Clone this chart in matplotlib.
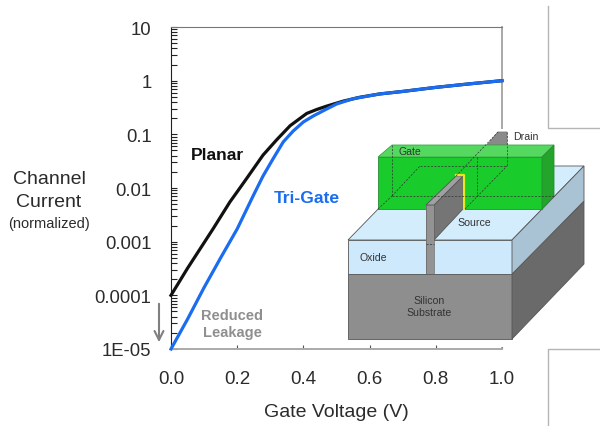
import matplotlib
matplotlib.use("Agg")
import matplotlib.pyplot as plt
from matplotlib.patches import Polygon, Rectangle
from matplotlib.ticker import LogLocator, NullFormatter

plt.rcParams["font.family"] = ["Liberation Sans", "DejaVu Sans"]

W, H = 600, 427
INK = "#2b2b2b"
BLUE = "#1a6cf0"
GREY = "#8f8f8f"

planar_v = [0.0, 0.05, 0.127, 0.178, 0.2, 0.23, 0.278, 0.32, 0.36, 0.41, 0.44, 0.47, 0.52, 0.57, 0.63, 0.7, 0.8, 0.9, 1.0]
planar_i = [1e-4, 3.2e-4, 0.00173, 0.0055, 0.0085, 0.0155, 0.041, 0.08, 0.145, 0.245, 0.29, 0.335, 0.415, 0.49, 0.565, 0.63, 0.75, 0.87, 1.0]
trigate_v = [0.0, 0.05, 0.1, 0.15, 0.2, 0.248, 0.278, 0.308, 0.339, 0.369, 0.4, 0.43, 0.47, 0.5, 0.55, 0.63, 0.7, 0.8, 0.9, 1.0]
trigate_i = [1e-5, 3.6e-5, 1.4e-4, 5e-4, 0.00173, 0.0071, 0.0167, 0.0347, 0.072, 0.115, 0.17, 0.22, 0.296, 0.367, 0.46, 0.565, 0.63, 0.75, 0.87, 1.0]
x_ticks = [0.0, 0.2, 0.4, 0.6, 0.8, 1.0]
y_ticks = [1e-5, 1e-4, 1e-3, 1e-2, 0.1, 1, 10]
y_tick_labels = ["1E-05", "0.0001", "0.001", "0.01", "0.1", "1", "10"]

fig = plt.figure(figsize=(W / 100, H / 100), dpi=100, facecolor="white")
ax = fig.add_axes([171 / W, 1 - 350 / H, (502 - 171) / W, (350 - 28) / H])
ax.set_yscale("log")
ax.set_xlim(0, 1)
ax.set_ylim(1e-5, 10)

ax.plot(planar_v, planar_i, color="#111111", lw=2.3, clip_on=False, zorder=3)
ax.plot(trigate_v, trigate_i, color=BLUE, lw=2.3, clip_on=False, zorder=4)

ax.set_xticks(x_ticks)
ax.set_xticklabels([f"{v:.1f}" for v in x_ticks])
ax.set_yticks(y_ticks)
ax.set_yticklabels(y_tick_labels)
ax.yaxis.set_minor_locator(LogLocator(base=10, subs=range(2, 10), numticks=20))
ax.yaxis.set_minor_formatter(NullFormatter())
ax.tick_params(axis="y", which="both", direction="in", length=4, width=0.8, color="#222222",
               pad=14, labelsize=13.3, labelcolor=INK)
ax.tick_params(axis="x", direction="in", length=3, width=0.8, color="#555555",
               pad=15, labelsize=13.5, labelcolor=INK)
ax.spines["left"].set_color("#222222")
ax.spines["top"].set_color("#777777")
ax.spines["right"].set_color("#999999")
ax.spines["bottom"].set_color("#aaaaaa")
ax.spines["bottom"].set_linewidth(1.4)
ax.spines["right"].set_linewidth(1.2)

# overlay in pixel coordinates for the labels, device sketch and stray boxes
ov = fig.add_axes([0, 0, 1, 1], zorder=5)
ov.set_xlim(0, W)
ov.set_ylim(H, 0)
ov.axis("off")


def poly(points, color, edge="#555555"):
    ov.add_patch(Polygon(points, closed=True, facecolor=color, edgecolor=edge, lw=0.6))


def dashed(x0, y0, x1, y1):
    ov.plot([x0, x1], [y0, y1], color="#333333", lw=0.5, ls=(0, (3, 2)), zorder=6)


# hides the right spine behind the sketch
ov.add_patch(Rectangle((496, 130), 12, 218, facecolor="white", edgecolor="none"))

# boxes at the right edge
ov.plot([600, 548, 548], [129, 129, 7], color="#b5b5b5", lw=1)
ov.plot([600, 548, 548], [350, 350, 427], color="#b5b5b5", lw=1)

# substrate
poly([(348, 275), (512, 275), (512, 340), (348, 340)], "#8e8e8e")
poly([(512, 275), (584, 202), (584, 265), (512, 340)], "#6a6a6a")
# oxide
poly([(348, 241), (512, 241), (584, 167), (420, 167)], "#d3edfc")
poly([(348, 241), (512, 241), (512, 275), (348, 275)], "#cde9fb")
poly([(512, 241), (584, 167), (584, 202), (512, 275)], "#a9c3d4")
# drain end of the fin
poly([(487, 146), (498, 133), (507, 133), (507, 146)], "#8a8a8a", "#777777")
# gate
poly([(378, 158), (392, 146), (554, 146), (542, 158)], "#55d85f", "#3aa845")
poly([(378, 158), (542, 158), (542, 210), (378, 210)], "#19cc2b", "#2a8a33")
poly([(542, 158), (554, 146), (554, 197), (542, 210)], "#22a52a", "#2a8a33")
# fin
poly([(434, 206), (463, 177), (463, 210), (434, 241)], "#757575")
poly([(426, 206), (456, 177), (463, 177), (434, 206)], "#a0a0a0")
ov.add_patch(Rectangle((426, 206), 8, 69, facecolor="#939393", edgecolor="none", zorder=3))
ov.plot([426, 426], [206, 275], color="#666666", lw=0.5, zorder=3)
ov.plot([434, 434], [206, 275], color="#666666", lw=0.5, zorder=3)
ov.plot([426, 434], [206, 206], color="#666666", lw=0.5, zorder=3)
ov.plot([456, 464, 464], [176, 176, 210], color="#e8e81e", lw=1.6, zorder=5)

dashed(392, 146, 392, 197)
dashed(392, 197, 554, 197)
dashed(378, 210, 392, 197)
dashed(420, 167, 507, 167)
dashed(392, 197, 420, 167)
dashed(507, 133, 507, 167)
dashed(477, 158, 477, 197)
dashed(465, 210, 507, 167)
dashed(456, 177, 498, 133)
dashed(426, 245, 434, 245)

for x, y, s in [(410, 152, "Gate"), (526, 137, "Drain"), (474, 223, "Source"), (373, 258, "Oxide"),
                (429, 301, "Silicon"), (429, 313, "Substrate")]:
    ov.text(x, y, s, fontsize=7.6, color="#333333", ha="center", va="center", zorder=7)

# chart labels
ov.text(49, 180, "Channel", fontsize=14, color=INK, ha="center", va="center")
ov.text(49, 203, "Current", fontsize=14, color=INK, ha="center", va="center")
ov.text(49, 224, "(normalized)", fontsize=10.5, color=INK, ha="center", va="center")
ov.text(336, 413, "Gate Voltage (V)", fontsize=14, color=INK, ha="center", va="center")
ov.text(191, 156, "Planar", fontsize=12.6, fontweight="bold", color="#111111", ha="left", va="center")
tri = ov.text(274, 199, "Tri-Gate", fontsize=12.6, fontweight="bold", color=BLUE, ha="left", va="center")
tri.set_clip_path(Rectangle((270, 185), 62.5, 30, transform=ov.transData))
ov.text(232, 316, "Reduced", fontsize=10.5, fontweight="bold", color=GREY, ha="center", va="center")
ov.text(232, 333, "Leakage", fontsize=10.5, fontweight="bold", color=GREY, ha="center", va="center")
ov.annotate("", xy=(159, 346), xytext=(159, 302),
            arrowprops=dict(arrowstyle="->", color="#808080", lw=1.5, mutation_scale=16))

fig.savefig("out.png", dpi=100, facecolor="white")
